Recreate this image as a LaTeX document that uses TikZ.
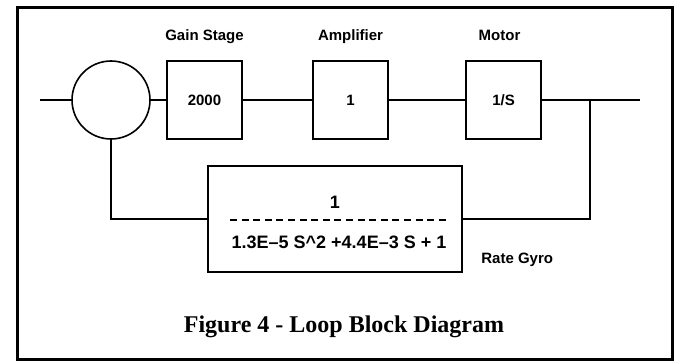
\documentclass[tikz,border=0pt]{standalone}
\usepackage{fontspec}
\setmainfont{Liberation Serif}
\setsansfont{Liberation Sans}
\usetikzlibrary{positioning,calc}

\begin{document}
\begin{tikzpicture}[
    x=1pt, y=1pt,
    block/.style={
        rectangle,
        draw,
        line width=1.6pt,
        minimum width=75pt,
        minimum height=78pt,
        font=\fontsize{15}{17}\selectfont\sffamily\bfseries
    },
    sumjunc/.style={circle, draw, line width=1.6pt, minimum size=78pt},
    tag/.style={font=\fontsize{15}{17}\selectfont\sffamily\bfseries, text height=11pt, text depth=3pt},
    formula/.style={font=\fontsize{18}{21}\selectfont\sffamily\bfseries},
    wire/.style={line width=1.6pt},
    fracbar/.style={line width=1.2pt, dash pattern=on 7pt off 4.6pt}
]
    \useasboundingbox (0,0) rectangle (682,362);
    % outer frame
    \draw[line width=3pt] (17,3) rectangle (672,354);

    % forward path
    \node[sumjunc] (sum) at (111,262) {};
    \node[block] (gain) at (204.5,262) {2000};
    \node[block] (amp) at (350.5,262) {1};
    \node[block] (motor) at (503.5,262) {1/S};

    % block titles
    \node[tag, above=13pt of gain] (gaintag) {Gain Stage};
    \node[tag, above=13pt of amp] (amptag) {Amplifier};
    \node[tag, above=13pt of motor, xshift=-4pt] (motortag) {Motor};

    % feedback path
    \node[block, minimum width=254pt, minimum height=106pt] (gyro) at (335,143) {};
    \node[formula] (num) at ($(gyro.center)+(0,17)$) {1};
    \node[formula] (den) at ($(gyro.center)+(4,-23)$) {1.3E--5 S\textasciicircum 2 +4.4E--3 S + 1};
    \draw[fracbar] ($(gyro.center)+(-105,-1)$) -- ($(gyro.center)+(115,-1)$);
    \node[tag, anchor=west] (gyrotag) at ($(gyro.south east)+(15,13)$) {Rate Gyro};

    % connectors
    \coordinate (in) at (40,262);
    \coordinate (tap) at (590,262);
    \coordinate (out) at (640,262);
    \draw[wire] (in) -- (sum);
    \draw[wire] (sum) -- (gain);
    \draw[wire] (gain) -- (amp);
    \draw[wire] (amp) -- (motor);
    \draw[wire] (motor) -- (out);
    \draw[wire] (tap) |- (gyro.east);
    \draw[wire] (gyro.west) -| (sum.south);

    % caption
    \node[font=\fontsize{24}{28}\selectfont\bfseries, anchor=base] (caption) at (344,30) {Figure 4 - Loop Block Diagram};
\end{tikzpicture}
\end{document}
